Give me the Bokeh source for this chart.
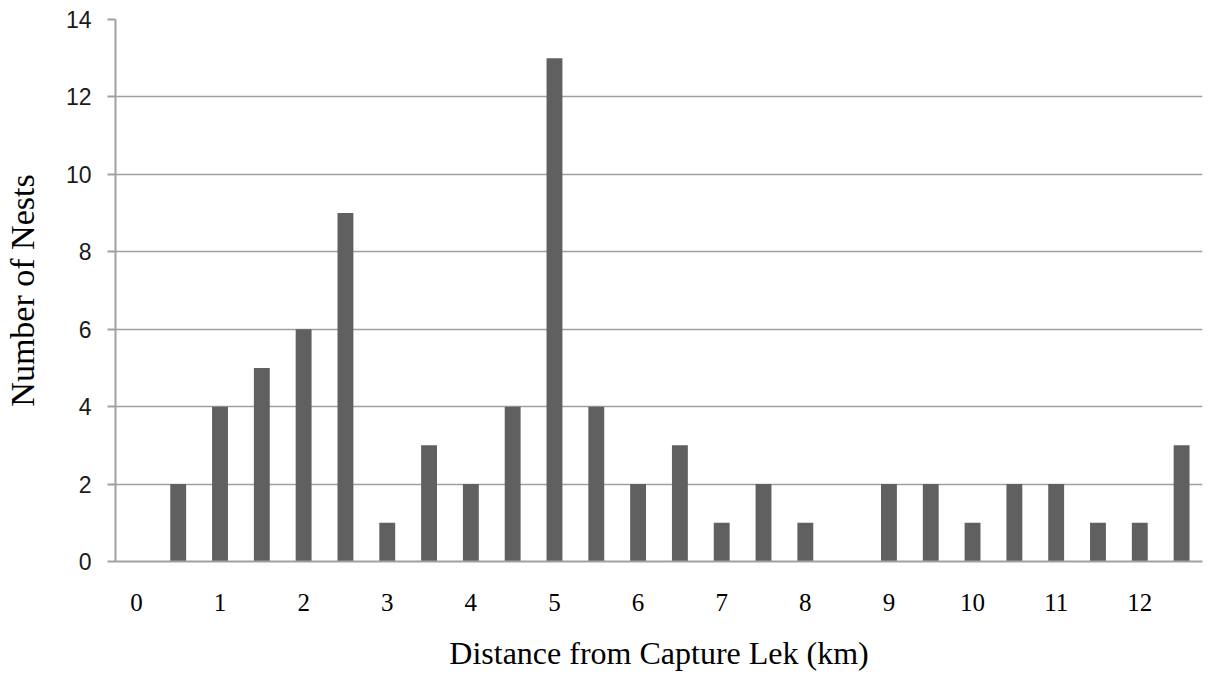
from bokeh.plotting import figure
from bokeh.models import ColumnDataSource, FixedTicker, Range1d
from bokeh.embed import file_html
from bokeh.resources import INLINE

distance_km = [0, 0.5, 1, 1.5, 2, 2.5, 3, 3.5, 4, 4.5, 5, 5.5, 6, 6.5,
               7, 7.5, 8, 8.5, 9, 9.5, 10, 10.5, 11, 11.5, 12, 12.5]
nests = [0, 2, 4, 5, 6, 9, 1, 3, 2, 4, 13, 4, 2, 3,
         1, 2, 1, 0, 2, 2, 1, 2, 2, 1, 1, 3]
x_ticks = [0, 1, 2, 3, 4, 5, 6, 7, 8, 9, 10, 11, 12]
y_ticks = [0, 2, 4, 6, 8, 10, 12, 14]

src = ColumnDataSource(dict(x=distance_km, y=nests))

p = figure(width=1203, height=677, output_backend="svg", toolbar_location=None,
           x_range=Range1d(-0.25, 12.75), y_range=Range1d(0, 14),
           min_border_left=113, min_border_right=1, min_border_top=19,
           min_border_bottom=116)

p.vbar(x="x", top="y", width=0.19, source=src, fill_color="#606060",
       line_color=None)

p.outline_line_color = None
p.background_fill_color = "white"

# x axis
p.xaxis.ticker = FixedTicker(ticks=x_ticks)
p.xaxis.major_tick_line_color = None
p.xaxis.minor_tick_line_color = None
p.xaxis.axis_line_color = "#a0a0a0"
p.xaxis.axis_line_width = 2
p.xaxis.major_label_text_font = "Liberation Serif"
p.xaxis.major_label_text_font_size = "25px"
p.xaxis.major_label_text_color = "#000000"
p.xaxis.major_label_standoff = 26
p.xaxis.axis_label = "Distance from Capture Lek (km)"
p.xaxis.axis_label_text_font = "Liberation Serif"
p.xaxis.axis_label_text_font_size = "32px"
p.xaxis.axis_label_text_font_style = "normal"
p.xaxis.axis_label_text_color = "#000000"
p.xaxis.axis_label_standoff = 21

# y axis
p.yaxis.ticker = FixedTicker(ticks=y_ticks)
p.yaxis.major_tick_out = 8
p.yaxis.major_tick_in = 0
p.yaxis.major_tick_line_color = "#a0a0a0"
p.yaxis.major_tick_line_width = 2
p.yaxis.minor_tick_line_color = None
p.yaxis.axis_line_color = "#a0a0a0"
p.yaxis.axis_line_width = 2
p.yaxis.major_label_text_font = "Liberation Sans"
p.yaxis.major_label_text_font_size = "23px"
p.yaxis.major_label_text_color = "#1a1a1a"
p.yaxis.major_label_standoff = 16
p.yaxis.axis_label = "Number of Nests"
p.yaxis.axis_label_text_font = "Liberation Serif"
p.yaxis.axis_label_text_font_size = "34px"
p.yaxis.axis_label_text_font_style = "normal"
p.yaxis.axis_label_text_color = "#000000"
p.yaxis.axis_label_standoff = 22

p.xgrid.grid_line_color = None
p.ygrid.grid_line_color = "#a0a0a0"
p.ygrid.grid_line_width = 1.5

open("out.html", "w").write(file_html(p, INLINE))
